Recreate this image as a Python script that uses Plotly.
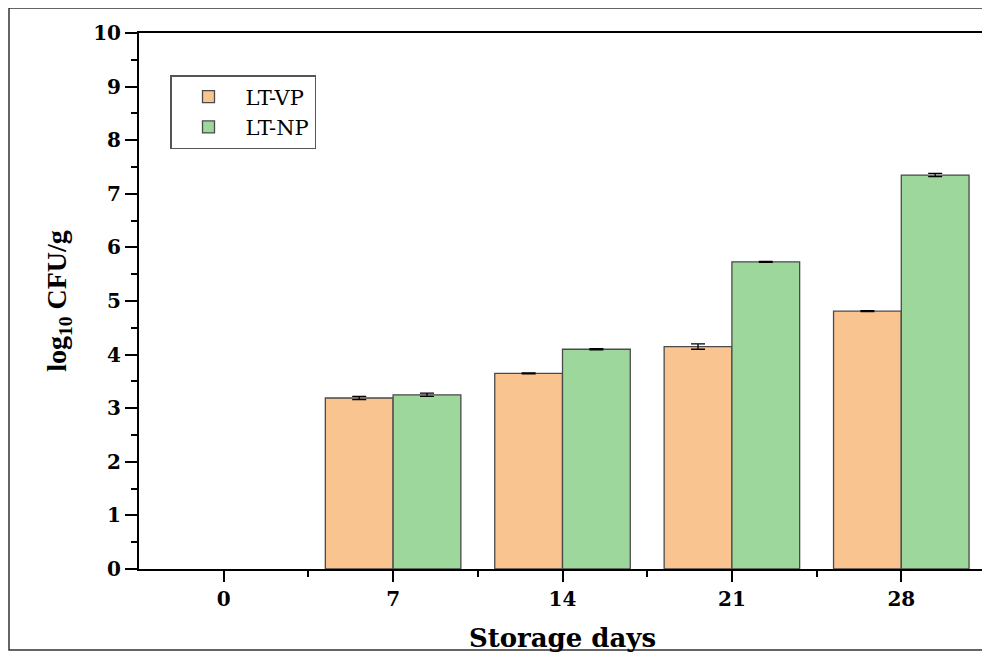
import plotly.graph_objects as go

days = ["0", "7", "14", "21", "28"]
lt_vp = [None, 3.19, 3.65, 4.15, 4.81]
lt_vp_err = [None, 0.03, 0.01, 0.05, 0.01]
lt_np = [None, 3.25, 4.10, 5.73, 7.35]
lt_np_err = [None, 0.03, 0.01, 0.01, 0.03]
y_ticks = list(range(0, 11))

xpos = list(range(len(days)))
HFONT = "DejaVu Serif"      # horizontal texts (reference is horizontally stretched Times)
VFONT = "Liberation Serif"  # rotated y title

# page body has an 8px margin, so positions below are page px minus 8
OFF = 8
W, H = 990 - OFF, 653 - OFF
L, T = 139 - OFF, 33 - OFF
R = W - (986 - OFF)
B = H - (569 - OFF)
pw, ph = W - L - R, H - T - B


def px_x(px):
    return (px - OFF - L) / pw


def px_y(py):
    return (H - B - (py - OFF)) / ph


fig = go.Figure()
fig.add_trace(go.Bar(
    x=xpos, y=lt_vp, name="LT-VP",
    marker=dict(color="#FAC491", line=dict(color="#4a4a4a", width=1.3)),
    error_y=dict(type="data", array=lt_vp_err, color="black", thickness=1.3, width=7),
))
fig.add_trace(go.Bar(
    x=xpos, y=lt_np, name="LT-NP",
    marker=dict(color="#9DD79B", line=dict(color="#4a4a4a", width=1.3)),
    error_y=dict(type="data", array=lt_np_err, color="black", thickness=1.3, width=7),
))

fig.update_layout(
    width=W, height=H,
    margin=dict(l=L, r=R, t=T, b=B),
    plot_bgcolor="white", paper_bgcolor="white",
    barmode="group", bargap=0.2, bargroupgap=0,
    font=dict(family=HFONT, color="black"),
    showlegend=True,
    legend=dict(
        x=px_x(170), y=px_y(75), xanchor="left", yanchor="top",
        bordercolor="#555555", borderwidth=1.5, bgcolor="white",
        font=dict(family=HFONT, size=21, color="black"),
        tracegroupgap=0, itemwidth=64,
    ),
    xaxis=dict(
        range=[-0.5, 4.5], tickmode="array", tickvals=xpos, ticktext=days,
        showgrid=False, zeroline=False,
        showline=True, linecolor="black", linewidth=2, mirror=True,
        ticks="outside", ticklen=11, tickwidth=2, tickcolor="black",
        minor=dict(tickmode="array", tickvals=[0.5, 1.5, 2.5, 3.5], ticks="outside",
                   ticklen=6, tickwidth=2, tickcolor="black"),
        tickfont=dict(family=HFONT, size=20, color="black", weight="bold"),
        title=dict(text="<b>Storage days</b>", font=dict(family=HFONT, size=26, color="black"),
                   standoff=20),
    ),
    yaxis=dict(
        range=[0, 10], tickmode="array", tickvals=y_ticks,
        showgrid=False, zeroline=False,
        showline=True, linecolor="black", linewidth=2,
        ticks="outside", ticklen=12, tickwidth=2, tickcolor="black",
        minor=dict(dtick=0.5, tick0=0, ticks="outside", ticklen=6, tickwidth=2, tickcolor="black"),
        tickfont=dict(family=HFONT, size=20, color="black", weight="bold"),
        title=dict(text="<b>log<sub>10</sub> CFU/g</b>", font=dict(family=VFONT, size=28, color="black"),
                   standoff=18),
    ),
)

# small extension of bottom/top axis lines left of y axis, as in the original
for yy in (0, 1):
    fig.add_shape(type="line", xref="paper", yref="paper", x0=-12 / pw, x1=0, y0=yy, y1=yy,
                  line=dict(color="black", width=2))

# outer frame
fig.add_shape(type="rect", xref="paper", yref="paper",
              x0=px_x(9), x1=px_x(988), y0=px_y(650), y1=px_y(8),
              line=dict(color="#333333", width=1.5), layer="below")

fig.write_html("out.html")
